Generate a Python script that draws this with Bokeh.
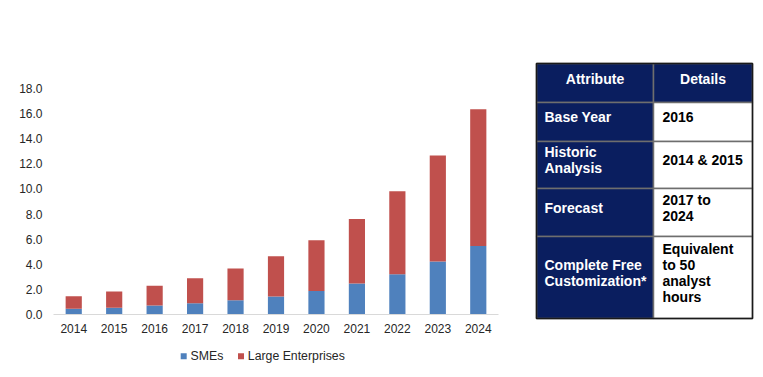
from bokeh.plotting import figure
from bokeh.layouts import row, column
from bokeh.models import (FactorRange, Range1d, FixedTicker, NumeralTickFormatter,
                          ColumnDataSource)
from bokeh.embed import file_html
from bokeh.resources import INLINE
from bokeh.core.properties import value

# ---------------- data ----------------
years = ["2014", "2015", "2016", "2017", "2018", "2019", "2020", "2021", "2022", "2023", "2024"]
smes = [0.45, 0.53, 0.72, 0.90, 1.14, 1.43, 1.88, 2.47, 3.21, 4.22, 5.46]
large_enterprises = [1.01, 1.30, 1.56, 1.99, 2.52, 3.21, 4.04, 5.14, 6.61, 8.44, 10.89]
series_names = ["SMEs", "Large Enterprises"]
series_colors = ["#4F81BD", "#C0504D"]
y_ticks = [0, 2, 4, 6, 8, 10, 12, 14, 16, 18]

table_headers = ["Attribute", "Details"]
table_attributes = ["Base Year", "Historic\nAnalysis", "Forecast", "Complete Free\nCustomization*"]
table_details = ["2016", "2014 & 2015", "2017 to\n2024", "Equivalent\nto 50\nanalyst\nhours"]

# ---------------- styles ----------------
FONT = "Liberation Sans"
TEXT_COLOR = "#262626"
NAVY = "#0A1E5F"

# ---------------- chart ----------------
source = ColumnDataSource(data={"years": years, "SMEs": smes, "Large Enterprises": large_enterprises})

p = figure(x_range=FactorRange(*years, range_padding=0), y_range=Range1d(0, 18),
           width=523, height=340, output_backend="svg", toolbar_location=None,
           min_border_left=53, min_border_right=25, min_border_top=88, min_border_bottom=26)
p.frame_align = False
p.outline_line_color = None
p.grid.visible = False
p.background_fill_color = "white"

p.vbar_stack(series_names, x="years", width=0.4, color=series_colors,
             source=source, line_color=None)

p.yaxis.ticker = FixedTicker(ticks=y_ticks)
p.yaxis.formatter = NumeralTickFormatter(format="0.0")
p.yaxis.axis_line_color = None
p.yaxis.major_tick_line_color = None
p.yaxis.minor_tick_line_color = None
p.yaxis.major_tick_out = 0
p.yaxis.major_tick_in = 0
p.yaxis.major_label_standoff = 11

p.xaxis.axis_line_color = "#D9D9D9"
p.xaxis.axis_line_width = 1
p.xaxis.major_tick_line_color = None
p.xaxis.minor_tick_line_color = None
p.xaxis.major_tick_out = 0
p.xaxis.major_tick_in = 0
p.xaxis.major_label_standoff = 9

for ax in (p.xaxis, p.yaxis):
    ax.major_label_text_font = FONT
    ax.major_label_text_font_size = "12px"
    ax.major_label_text_color = TEXT_COLOR

# ---------------- legend (drawn below the chart) ----------------
lf = figure(width=523, height=35, x_range=Range1d(0, 523), y_range=Range1d(35, 0),
            output_backend="svg", toolbar_location=None,
            min_border_left=0, min_border_right=0, min_border_top=0, min_border_bottom=0)
lf.frame_align = False
lf.axis.visible = False
lf.grid.visible = False
lf.outline_line_color = None

legend_x = [183.2, 240.5]
legend_y = 15.7
lf.scatter(x=legend_x, y=[legend_y] * 2, marker="square", size=6,
           fill_color=series_colors, line_color=None)
lf.text(x=[x + 6.8 for x in legend_x], y=[legend_y] * 2, text=series_names,
        text_color=TEXT_COLOR, text_font=value(FONT), text_font_size="12.3px",
        text_align="left", text_baseline="middle")

# ---------------- table ----------------
t = figure(width=238, height=375, x_range=Range1d(0, 238), y_range=Range1d(375, 0),
           output_backend="svg", toolbar_location=None,
           min_border_left=0, min_border_right=0, min_border_top=0, min_border_bottom=0)
t.frame_align = False
t.axis.visible = False
t.grid.visible = False
t.outline_line_color = None

col_edges = [13, 130, 229]
row_edges = [63, 102, 141, 188, 236, 318]
n_rows = len(row_edges) - 1

lefts, rights, tops, bottoms, fills = [], [], [], [], []
for r in range(n_rows):
    for c in range(2):
        lefts.append(col_edges[c]); rights.append(col_edges[c + 1])
        tops.append(row_edges[r]); bottoms.append(row_edges[r + 1])
        fills.append(NAVY if (r == 0 or c == 0) else "white")
t.quad(left=lefts, right=rights, top=tops, bottom=bottoms, fill_color=fills,
       line_color="#6E6E6E", line_width=1.5)
# outer frame
t.quad(left=[col_edges[0]], right=[col_edges[-1]], top=[row_edges[0]], bottom=[row_edges[-1]],
       fill_color=None, line_color="#1A1A1A", line_width=1.5)

# header
hx = [(col_edges[0] + col_edges[1]) / 2, (col_edges[1] + col_edges[2]) / 2]
hy = [(row_edges[0] + row_edges[1]) / 2 - 4.5] * 2
t.text(x=hx, y=hy, text=table_headers, text_color="white", text_font=value(FONT),
       text_font_size="14px", text_font_style="bold", text_align="center", text_baseline="middle")

cy = [(row_edges[r] + row_edges[r + 1]) / 2 - 5 for r in range(1, n_rows)]
t.text(x=[col_edges[0] + 8] * 4, y=cy, text=table_attributes, text_color="white",
       text_font=value(FONT), text_font_size="14px", text_font_style="bold",
       text_align="left", text_baseline="middle", text_line_height=1.0)
t.text(x=[col_edges[1] + 9] * 4, y=cy, text=table_details, text_color="black",
       text_font=value(FONT), text_font_size="14px", text_font_style="bold",
       text_align="left", text_baseline="middle", text_line_height=1.0)

layout = row(column(p, lf), t)
open("out.html", "w").write(file_html(layout, INLINE))
